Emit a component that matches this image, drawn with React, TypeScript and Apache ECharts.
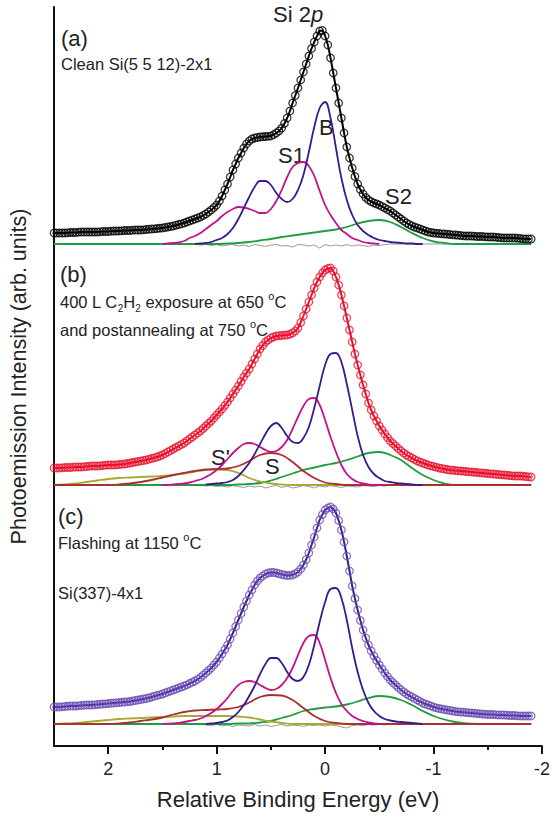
import React, { useEffect, useRef } from 'react';
import * as echarts from 'echarts';

// ---------- axis ----------
const E_MAX = 2.5;
const E_MIN = -2;
const majorTicks = [2, 1, 0, -1, -2];
const minorTicks = [1.5, 0.5, -0.5, -1.5];

// vertical offsets of the three stacked spectra (arb. units)
const offsetA = 502;
const offsetB = 261;
const offsetC = 22;

// ---------- (a) Clean Si(5 5 12)-2x1 ----------
// measured data, 2.5 -> -1.9 eV, step 0.025 (8 values per 0.2 eV row)
const dataA = [
  11, 11, 11, 11, 11, 11.2, 11.5, 11.5, // 2.5
  11.5, 11.8, 12, 12, 12, 12, 12, 12, // 2.3
  12, 12.2, 12.5, 12.5, 12.5, 12.8, 13, 13, // 2.1
  13, 13.2, 13.5, 13.5, 13.5, 13.8, 14, 14, // 1.9
  14, 14.2, 14.5, 14.8, 15, 15.2, 15.5, 15.8, // 1.7
  16, 16.5, 17, 17.5, 18, 18.8, 19.5, 20.2, // 1.5
  21, 22, 23, 24, 25, 26, 27, 28.5, // 1.3
  30, 32, 34, 36.5, 39, 43, 48, 54, // 1.1
  60, 67, 74, 80, 86, 91, 96, 100, // 0.9
  103, 105, 106, 106.5, 107, 107.3, 107.5, 107.7, // 0.7
  108, 109.3, 111, 113, 116, 120.5, 126, 133, // 0.5
  141, 148.5, 156, 164, 172, 180, 188, 195.5, // 0.3
  202, 208, 213, 213.5, 208, 199, 186, 171, // 0.1
  156, 141, 126, 111, 97, 86, 76, 67.5, // -0.1
  60, 54.5, 50, 46.5, 44, 42.3, 41, 40, // -0.3
  39, 37.5, 36, 34.5, 33, 31, 29, 27, // -0.5
  25, 23, 21, 19.5, 18, 17, 16, 15, // -0.7
  14, 13, 12, 11.5, 11, 10.8, 10.5, 10.2, // -0.9
  10, 9.8, 9.5, 9.2, 9, 8.8, 8.5, 8.2, // -1.1
  8, 8, 8, 7.8, 7.5, 7.5, 7.5, 7.2, // -1.3
  7, 7, 7, 6.8, 6.5, 6.2, 6, 6, // -1.5
  6, 6, 6, 5.8, 5.5, 5.2, 5, 5, // -1.7
  5, // -1.9
];
// B, 1.2 -> -0.9, step 0.05
const bulkA = [0, 0.5, 1, 2, 4, 6, 10, 16, 25, 36, 47, 57, 63, 63, 59, 51, 45, 42, 45, 54, 69, 92, 117, 136, 142, 126, 96, 66, 44, 29, 19, 13, 9, 6, 4, 3, 2, 1.5, 1, 0.5, 0.5, 0, 0];
// S1, 1.5 -> -0.5, step 0.05
const s1A = [0, 0.5, 1, 1.5, 3, 6, 8, 11, 15, 19, 23, 28, 32, 35, 37, 36.5, 35, 33, 31, 31, 35, 43, 54, 67, 77, 81, 82, 78, 68, 53, 39, 29, 21, 14, 10, 6, 4, 2, 1, 0.5, 0];
// S2, 2.5 -> -1.9, step 0.1
const s2A = [0, 0, 0, 0, 0, 0, 0, 0, 0, 0, 0, 0, 0, 0, 0, 0, 0.5, 1, 2, 3.5, 5, 7, 8.5, 10, 11.5, 13, 14.5, 17, 20.5, 23, 24, 22, 17, 11, 6, 2.5, 1, 0, 0, 0, 0, 0, 0, 0, 0];
// residual, 1.2 -> -0.6, step 0.05
const resA = [0, -1, -0.5, -1.5, -0.5, -2, -1, -0.5, -2, -1, -2.5, -0.5, -1.5, -2.5, -1, -0.5, -2, -1.5, -3, -0.5, -1, -2, -1, -4, -0.5, -2, -1, -2, -0.5, -2, -1, -1.5, -2.5, -1, -1.5, -0.5, 0];

// ---------- (b) 400 L C2H2 exposure + postannealing ----------
const dataB = [
  17, 17, 17, 17.2, 17.5, 17.5, 17.5, 17.8, // 2.5
  18, 18, 18, 18.2, 18.5, 18.8, 19, 19, // 2.3
  19, 19.2, 19.5, 19.8, 20, 20, 20, 20.2, // 2.1
  20.5, 20.8, 21, 21.5, 22, 22.5, 23, 23.5, // 1.9
  24, 24.5, 25, 25.8, 26.5, 27.2, 28, 29, // 1.7
  30, 31.5, 33, 34.5, 36, 37.5, 39, 40.5, // 1.5
  42, 44, 46, 48, 50, 52, 54, 56.5, // 1.3
  59, 61.5, 64, 67, 70, 73, 76, 79.5, // 1.1
  83, 87, 91, 95, 99, 103.5, 108, 112, // 0.9
  116, 121, 126, 131, 136, 139.5, 143, 145, // 0.7
  147, 148, 149, 149.3, 149.5, 149.8, 150, 150.8, // 0.5
  152, 154, 157, 162.5, 169, 176, 183, 190, // 0.3
  197, 203, 208, 212, 215, 216.5, 217, 214, // 0.1
  208, 200, 190, 179, 167, 155, 143, 131, // -0.1
  120, 110, 100, 91, 82, 75, 69, 64, // -0.3
  59, 55, 51, 47.5, 44, 41.5, 39, 36.5, // -0.5
  34, 32, 30, 28.5, 27, 25.5, 24, 23, // -0.7
  22, 21, 20, 19.2, 18.5, 17.8, 17, 16.5, // -0.9
  16, 15.5, 15, 14.8, 14.5, 14.2, 14, 13.8, // -1.1
  13.5, 13.2, 13, 12.8, 12.5, 12.2, 12, 11.8, // -1.3
  11.5, 11.2, 11, 10.8, 10.5, 10.2, 10, 9.8, // -1.5
  9.5, 9.2, 9, 9, 9, 8.8, 8.5, 8.2, // -1.7
  8, // -1.9
];
// B, 1.1 -> -0.9, step 0.05
const bulkB = [0.5, 1, 1.5, 2, 3, 5, 9, 15, 22, 31, 41, 51, 59, 62, 57, 49, 43, 42, 47, 58, 77, 99, 120, 131, 132, 123, 101, 75, 49, 30, 18, 11, 7, 4, 3, 2, 1.5, 1, 0.5, 0, 0];
// S1, 1.5 -> -0.5, step 0.05
const s1B = [0, 0, 0.5, 1, 1.5, 2.5, 4, 5.5, 8, 11, 15, 20, 26, 32, 37, 41, 42, 41, 38, 35, 33, 34, 38, 45, 56, 68, 79, 86, 87, 80, 65, 48, 33, 20, 11, 6, 3, 1.5, 0.5, 0, 0];
// S2, 2.5 -> -1.9, step 0.1
const s2B = [0, 0, 0, 0, 0, 0, 0, 0, 0, 0, 0, 0, 0, 0, 0, 0, 0, 0.5, 1, 2, 4.5, 8, 11.5, 15, 17.5, 20, 22, 25, 28.5, 32, 33, 30, 25, 17, 10, 5, 1.5, 0, 0, 0, 0, 0, 0, 0, 0];
// S, 2.5 -> -1.9, step 0.1
const sB = [0, 0, 0, 0, 0, 0, 0.5, 1.5, 3, 5, 7.5, 10, 12, 14, 15.5, 16, 16.5, 19, 24, 30, 32, 30, 23, 14, 7, 2.5, 1, 0, 0, 0, 0, 0, 0, 0, 0, 0, 0, 0, 0, 0, 0, 0, 0, 0, 0];
// S', 2.5 -> -1.9, step 0.1
const spB = [0, 0.5, 1.5, 3, 4.5, 6, 7, 7.5, 8, 8.5, 9, 10, 11.5, 13.5, 15, 15.5, 15, 12, 7, 3.5, 1.5, 0.5, 0, 0, 0, 0, 0, 0, 0, 0, 0, 0, 0, 0, 0, 0, 0, 0, 0, 0, 0, 0, 0, 0, 0];
const resB = [0, -0.5, -1, -0.5, -1.5, -1, -2, -0.5, -1.5, -2.5, -1, -2, -1, -3, -1.5, -0.5, -2.5, -1, -3, -2, -0.5, -1.5, -3, -1, -2, -0.5, -1.5, -2.5, -1, -1.5, -2, -0.5, -1, -1.5, -0.5, -1, 0];

// ---------- (c) Flashing at 1150 C, Si(337)-4x1 ----------
const dataC = [
  17, 17, 17, 17.2, 17.5, 17.8, 18, 18, // 2.5
  18, 18.2, 18.5, 18.8, 19, 19, 19, 19.2, // 2.3
  19.5, 19.8, 20, 20.2, 20.5, 20.8, 21, 21.2, // 2.1
  21.5, 21.8, 22, 22.2, 22.5, 23, 23.5, 24, // 1.9
  24.5, 25, 25.5, 26.2, 27, 27.8, 28.5, 29.2, // 1.7
  30, 31, 32, 33, 34, 35, 36, 37, // 1.5
  38, 39.2, 40.5, 41.8, 43, 44.7, 46.5, 48.7, // 1.3
  51, 53.5, 56, 59, 62, 66, 70, 74.5, // 1.1
  79, 85, 91, 97.5, 104, 110.5, 117, 123, // 0.9
  129, 134, 139, 143, 146, 148, 150, 151, // 0.7
  151.5, 151.5, 151, 150.3, 149.5, 149, 148.5, 148.7, // 0.5
  149, 150.3, 152, 155, 159, 164.5, 171, 179, // 0.3
  187, 196, 204, 209.5, 214, 216, 217, 215, // 0.1
  211, 203.5, 194, 182, 168, 153, 138, 125.5, // -0.1
  114, 103.5, 94, 86, 79, 73, 68, 63.5, // -0.3
  59, 55, 51, 47.5, 44, 41.5, 39, 36.5, // -0.5
  34, 32, 30, 28.5, 27, 25.5, 24, 22.5, // -0.7
  21, 20, 19, 18, 17, 16.2, 15.5, 15, // -0.9
  14.5, 14, 13.5, 13, 12.5, 12.2, 12, 11.8, // -1.1
  11.5, 11.2, 11, 10.8, 10.5, 10.2, 10, 9.8, // -1.3
  9.5, 9.5, 9.5, 9.2, 9, 9, 9, 8.8, // -1.5
  8.5, 8.5, 8.5, 8.2, 8, 8, 8, 8, // -1.7
  8, // -1.9
];
const bulkC = [0, 0.5, 1, 2, 3.5, 7, 12, 19, 28, 38, 50, 60, 66, 66, 61, 52, 45, 43, 47, 59, 79, 102, 122, 135, 136, 126, 104, 76, 52, 34, 21, 13, 8, 5, 3.5, 2.5, 2, 1.5, 1, 0.5, 0];
const s1C = [0, 0.3, 0.5, 1, 2, 3, 4, 5.5, 8, 11, 15, 20, 26, 33, 39, 42, 43, 42, 39, 36, 34, 35, 39, 46, 56, 69, 81, 88, 89, 81, 64, 46, 31, 20, 13, 8, 5, 3, 1.5, 0.5, 0];
const s2C = [0, 0, 0, 0, 0, 0, 0, 0, 0, 0, 0, 0, 0, 0, 0, 0, 0, 0.5, 0.5, 1.5, 3, 6, 9, 13, 15, 16.5, 17.5, 19.5, 22.5, 26, 28, 27, 24, 19, 13, 8, 4.5, 2, 0.5, 0, 0, 0, 0, 0, 0];
const sC = [0, 0, 0, 0, 0, 0, 0.5, 1.5, 3, 4.5, 6.5, 9.5, 12, 13.5, 14, 14.5, 15, 17, 21.5, 27, 29, 28.5, 24, 16, 8, 3, 1, 0, 0, 0, 0, 0, 0, 0, 0, 0, 0, 0, 0, 0, 0, 0, 0, 0, 0];
const spC = [0, 0.5, 1, 2, 3, 4, 5, 5.5, 6, 6.5, 7, 7.5, 8, 8, 8, 8, 8, 7.5, 6.5, 4.5, 2.5, 1, 0, 0, 0, 0, 0, 0, 0, 0, 0, 0, 0, 0, 0, 0, 0, 0, 0, 0, 0, 0, 0, 0, 0];
const resC = [0, -0.5, -1, -1.5, -0.5, -2, -1, -2.5, -1, -1.5, -2, -0.5, -2, -1, -2.5, -1.5, -0.5, -2, -1, -1.5, -2.5, -1, -1.5, -1, -2, -1, -1.5, -3, -4, -1.5, -1, -1.5, -0.5, -1, -0.5, -1, 0];

// ---------- colours ----------
const C_BULK = '#3a1a8c';
const C_S1 = '#c4128c';
const C_S2 = '#1f9e3e';
const C_S = '#a8302e';
const C_SP = '#aaa830';
const C_RES = '#9a9a9a';

const FONT = '"Liberation Sans", Arial, sans-serif';

function seq(start: number, step: number, vals: number[], offset: number) {
  return vals.map((v, i) => [Math.round((start - i * step) * 1000) / 1000, v + offset]);
}

function comp(data: number[][], color: string, z: number, width = 1.8, smooth: number | boolean = 0.4) {
  return {
    type: 'line',
    data,
    showSymbol: false,
    smooth,
    lineStyle: { color, width },
    itemStyle: { color },
    z,
    silent: true,
    emphasis: { disabled: true },
  };
}

function fitLine(data: number[][], color: string) {
  return {
    type: 'line',
    data,
    showSymbol: false,
    smooth: 0.2,
    lineStyle: { color, width: 2 },
    itemStyle: { color },
    z: 9,
    silent: true,
    emphasis: { disabled: true },
  };
}

function circles(data: number[][], color: string) {
  return {
    type: 'scatter',
    data,
    symbol: 'circle',
    symbolSize: 7.5,
    large: false,
    itemStyle: { color: 'rgba(255,255,255,0)', borderColor: color, borderWidth: 1.25 },
    z: 10,
    silent: true,
    emphasis: { disabled: true },
  };
}

function residual(vals: number[], offset: number) {
  return [[E_MAX, offset], ...seq(1.2, 0.05, vals, offset), [-1.9, offset]];
}

const txt = (x: number, y: number, text: string, size: number, rich?: any) => ({
  type: 'text',
  x,
  y,
  silent: true,
  style: {
    text,
    fill: '#222',
    font: `${size}px ${FONT}`,
    align: 'left',
    verticalAlign: 'middle',
    rich,
  },
});

const subSup = {
  sub: { fontSize: 10, fontFamily: 'Liberation Sans', verticalAlign: 'bottom', lineHeight: 23, fill: '#222' },
  sup: { fontSize: 11, fontFamily: 'Liberation Sans', verticalAlign: 'top', lineHeight: 23, fill: '#222' },
};

const SMALL = 16.5;
const BIG = 22;

export default function App() {
  const ref = useRef<HTMLDivElement>(null);
  useEffect(() => {
    document.body.style.margin = '0';
    const chart = echarts.init(ref.current!, null, { renderer: 'svg' });
    const axisBase = {
      type: 'value',
      inverse: true,
      min: E_MIN,
      max: E_MAX,
      splitLine: { show: false },
    };
    const dA = seq(2.5, 0.025, dataA, offsetA);
    const dB = seq(2.5, 0.025, dataB, offsetB);
    const dC = seq(2.5, 0.025, dataC, offsetC);
    chart.setOption({
      animation: false,
      backgroundColor: '#fff',
      grid: { left: 53, right: 8, top: 7, bottom: 70 },
      xAxis: [
        {
          ...axisBase,
          position: 'bottom',
          name: 'Relative Binding Energy (eV)',
          nameLocation: 'middle',
          nameGap: 42,
          nameTextStyle: { fontSize: 22, fontFamily: FONT, color: '#222' },
          axisLine: { show: true, onZero: false, lineStyle: { color: '#111', width: 2 } },
          axisTick: { show: true, inside: false, length: 8, customValues: majorTicks, lineStyle: { color: '#111', width: 2 } },
          axisLabel: { customValues: majorTicks, fontSize: 18, fontFamily: FONT, color: '#222', margin: 14 },
        },
        {
          ...axisBase,
          position: 'bottom',
          axisLine: { show: false, onZero: false },
          axisTick: { show: true, inside: false, length: 4, customValues: minorTicks, lineStyle: { color: '#111', width: 2 } },
          axisLabel: { show: false },
        },
      ],
      yAxis: {
        type: 'value',
        min: 0,
        max: 739,
        name: 'Photoemission Intensity (arb. units)',
        nameLocation: 'middle',
        nameGap: 24,
        nameTextStyle: { fontSize: 21.5, fontFamily: FONT, color: '#222' },
        axisLine: { show: true, onZero: false, lineStyle: { color: '#111', width: 2 } },
        axisTick: { show: false },
        axisLabel: { show: false },
        splitLine: { show: false },
      },
      series: [
        // (a)
        comp(residual(resA, offsetA), C_RES, 1, 1, false),
        comp(seq(2.5, 0.1, s2A, offsetA), C_S2, 2),
        comp(seq(1.5, 0.05, s1A, offsetA), C_S1, 3),
        comp(seq(1.2, 0.05, bulkA, offsetA), C_BULK, 4),
        fitLine(dA, '#000'),
        circles(dA, '#000'),
        // (b)
        comp(residual(resB, offsetB), C_RES, 1, 1, false),
        comp(seq(2.5, 0.1, s2B, offsetB), C_S2, 2),
        comp(seq(2.5, 0.1, spB, offsetB), C_SP, 2),
        comp(seq(2.5, 0.1, sB, offsetB), C_S, 3),
        comp(seq(1.5, 0.05, s1B, offsetB), C_S1, 3),
        comp(seq(1.1, 0.05, bulkB, offsetB), C_BULK, 4),
        fitLine(dB, '#e8102c'),
        circles(dB, '#e8102c'),
        // (c)
        comp(residual(resC, offsetC), C_RES, 1, 1, false),
        comp(seq(2.5, 0.1, s2C, offsetC), C_S2, 2),
        comp(seq(2.5, 0.1, spC, offsetC), C_SP, 2),
        comp(seq(2.5, 0.1, sC, offsetC), C_S, 3),
        comp(seq(1.5, 0.05, s1C, offsetC), C_S1, 3),
        comp(seq(1.1, 0.05, bulkC, offsetC), C_BULK, 4),
        fitLine(dC, '#3a1f8f'),
        circles(dC, '#6a4cb4'),
      ],
      graphic: [
        txt(273, 14, 'Si 2{it|p}', BIG, { it: { fontStyle: 'italic', fontSize: BIG, fontFamily: 'Liberation Sans', fill: '#222' } }),
        txt(61, 38, '(a)', BIG),
        txt(61, 64, 'Clean Si(5 5 12)-2x1', SMALL),
        txt(278, 155, 'S1', BIG),
        txt(319, 127, 'B', BIG),
        txt(385, 196, 'S2', BIG),
        txt(60, 274, '(b)', BIG),
        txt(60, 302, '400 L C{sub|2}H{sub|2} exposure at 650 {sup|o}C', SMALL, subSup),
        txt(60, 330, 'and postannealing at 750 {sup|o}C', SMALL, subSup),
        txt(211, 457, "S'", BIG),
        txt(265, 466, 'S', BIG),
        txt(58, 516, '(c)', BIG),
        txt(58, 543, 'Flashing at 1150 {sup|o}C', SMALL, subSup),
        txt(58, 593, 'Si(337)-4x1', SMALL),
      ],
    });
    return () => chart.dispose();
  }, []);
  return <div ref={ref} style={{ width: 553, height: 816 }} />;
}
